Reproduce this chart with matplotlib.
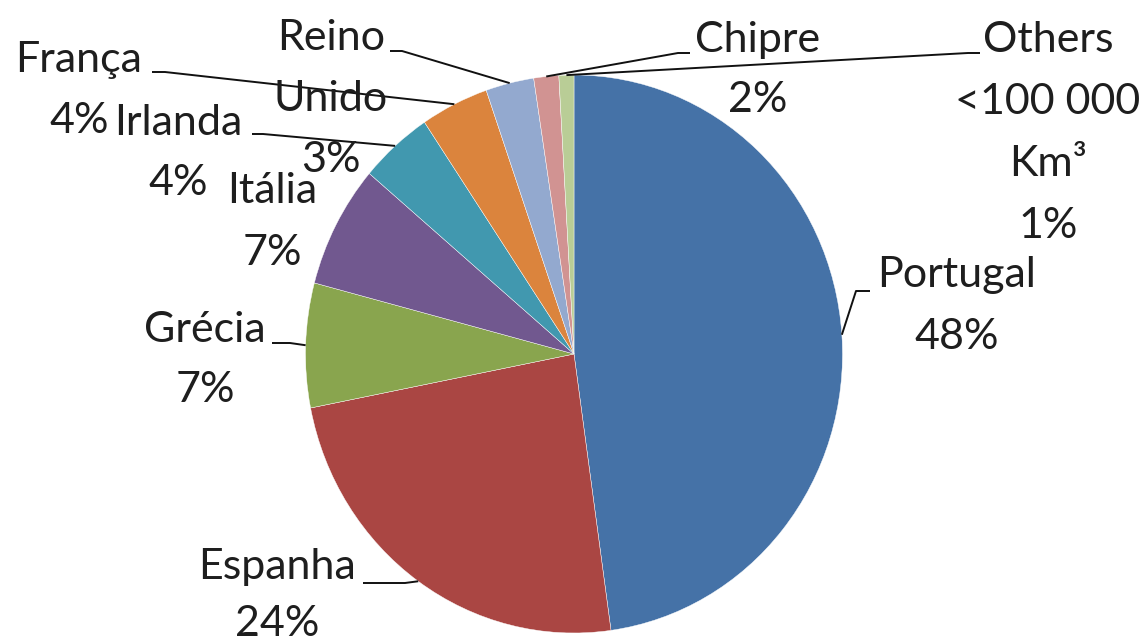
import matplotlib
matplotlib.use('Agg')
import matplotlib.pyplot as plt
import numpy as np

# ---------------- data ----------------
countries = ['Portugal', 'Espanha', 'Grécia', 'Itália', 'Irlanda', 'França',
             'Reino Unido', 'Chipre', 'Others']
shares = [47.8, 24.1, 7.2, 7.1, 4.4, 4.1, 2.9, 1.5, 0.9]
label_lines = [['Portugal'], ['Espanha'], ['Grécia'], ['Itália'], ['Irlanda'],
               ['França'], ['Reino', 'Unido'], ['Chipre'],
               ['Others', '<100 000', 'Km³']]
colors = ['#4572A7', '#AA4643', '#89A54E', '#71588F', '#4198AF',
          '#DB843D', '#93A9CF', '#D19392', '#B9CD96']

# ---------------- layout (pixels, from top-left) ----------------
W, H = 1143, 644
CX, CY, RX, RY = 574, 354, 268.5, 279
label_center_x = [957, 277, 205, 272, 178, 79, 331, 758, 1048]
label_first_baseline = [287, 579, 342, 203, 135, 72, 50, 52, 52]
line_gap = [62, 57, 60, 62, 60, 61, 61, 60, 62]
leaders = [((870, 291), (856, 291)), ((363, 583), (405, 583)),
           ((272, 343), (290, 343)), None, ((252, 134), (263, 134)),
           ((152, 72), (165, 72)), ((390, 51), (402, 51)),
           ((690, 53), (678, 53)), ((980, 53), (968, 53))]

plt.rcParams['font.family'] = ['Lato', 'DejaVu Sans']
TEXT_COLOR = '#1e1e1e'


def p2d(x, y):
    return ((x - CX) / RX, (CY - y) / RY)


fig = plt.figure(figsize=(W / 100, H / 100), dpi=100)
ax = fig.add_axes([0, 0, 1, 1])
wedges, _ = ax.pie(shares, colors=colors, startangle=90, counterclock=False,
                   radius=1, wedgeprops=dict(linewidth=0.3, edgecolor='white'))
ax.set_aspect('auto')
ax.set_xlim((0 - CX) / RX, (W - CX) / RX)
ax.set_ylim((CY - H) / RY, CY / RY)
ax.axis('off')

for i, w in enumerate(wedges):
    lines = label_lines[i] + [f"{round(shares[i])}%"]
    for k, txt in enumerate(lines):
        ax.text(*p2d(label_center_x[i], label_first_baseline[i] + k * line_gap[i]),
                txt, ha='center', va='baseline', fontsize=31,
                color=TEXT_COLOR)
    if leaders[i] is not None:
        mid = np.deg2rad((w.theta1 + w.theta2) / 2)
        edge = (np.cos(mid), np.sin(mid))
        end, elbow = leaders[i]
        pts = [p2d(*end), p2d(*elbow), edge]
        xs, ys = zip(*pts)
        ax.plot(xs, ys, color='#111111', lw=1.4, solid_capstyle='butt')

fig.savefig('out.png', dpi=100, facecolor='white')
